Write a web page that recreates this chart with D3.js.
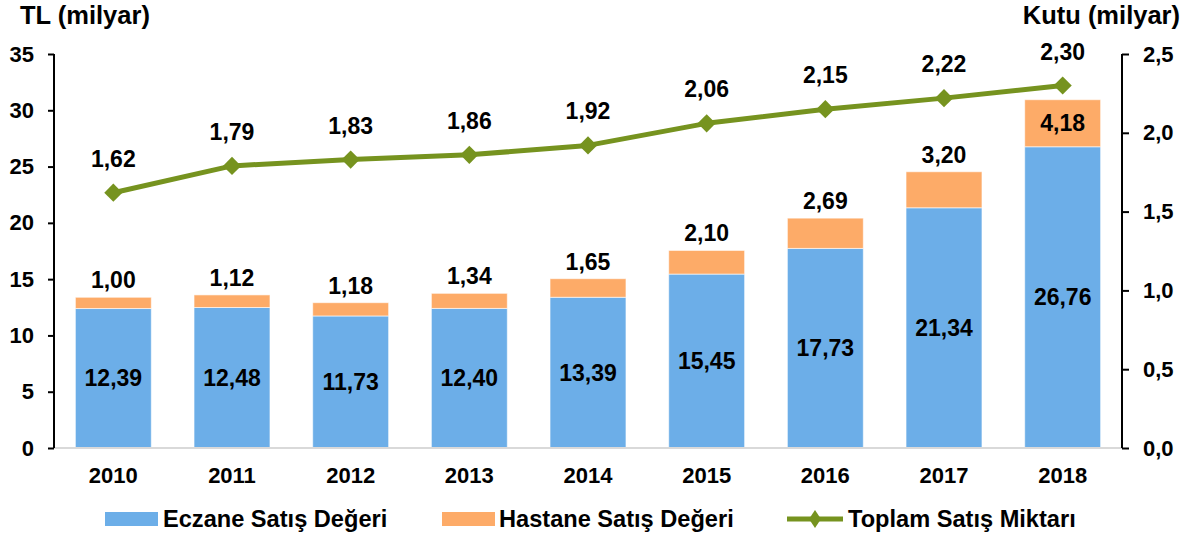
<!DOCTYPE html>
<html>
<head>
<meta charset="utf-8">
<script src="https://cdn.jsdelivr.net/npm/d3@7"></script>
<style>
  body { margin: 0; background: #fff; }
  text { font-family: "Liberation Sans", Arial, sans-serif; font-weight: bold; fill: #000; }
</style>
</head>
<body>
<svg id="chart" width="1200" height="535"></svg>
<script>
// veriler
const yillar = ["2010","2011","2012","2013","2014","2015","2016","2017","2018"];
const eczane = [12.39, 12.48, 11.73, 12.40, 13.39, 15.45, 17.73, 21.34, 26.76];
const hastane = [1.00, 1.12, 1.18, 1.34, 1.65, 2.10, 2.69, 3.20, 4.18];
const toplamMiktar = [1.62, 1.79, 1.83, 1.86, 1.92, 2.06, 2.15, 2.22, 2.30];
const solTikler = [0, 5, 10, 15, 20, 25, 30, 35];
const sagTikler = [0, 0.5, 1.0, 1.5, 2.0, 2.5];

const mavi = "#6caee8", turuncu = "#fdab68", yesil = "#76931f";
const fmt2 = v => v.toFixed(2).replace(".", ",");
const fmt1 = v => v.toFixed(1).replace(".", ",");

const svg = d3.select("#chart");
const sol = 54, sag = 1122, ust = 54, alt = 448;

const x = d3.scaleBand().domain(yillar).range([sol, sag]).paddingInner(0.36).paddingOuter(0.18);
const yL = d3.scaleLinear().domain([0, 35]).range([alt, ust]);
const yR = d3.scaleLinear().domain([0, 2.5]).range([alt, ust]);
const orta = d => x(d) + x.bandwidth() / 2;

// çubuklar
const g = svg.append("g");
g.selectAll(".ecz").data(yillar).join("rect")
  .attr("x", d => x(d)).attr("width", x.bandwidth())
  .attr("y", (d, i) => yL(eczane[i])).attr("height", (d, i) => yL(0) - yL(eczane[i]))
  .attr("fill", mavi).attr("stroke", "#fff").attr("stroke-opacity", 0.6).attr("stroke-width", 1);
g.selectAll(".has").data(yillar).join("rect")
  .attr("x", d => x(d)).attr("width", x.bandwidth())
  .attr("y", (d, i) => yL(eczane[i] + hastane[i])).attr("height", (d, i) => yL(eczane[i]) - yL(eczane[i] + hastane[i]))
  .attr("fill", turuncu).attr("stroke", "#fff").attr("stroke-opacity", 0.6).attr("stroke-width", 1);

// taban çizgisi
svg.append("line").attr("x1", sol).attr("x2", sag).attr("y1", alt).attr("y2", alt)
  .attr("stroke", "#d9d9d9").attr("stroke-width", 2);

// eksenler
const solEksen = svg.append("g").attr("transform", `translate(${sol},0)`)
  .call(d3.axisLeft(yL).tickValues(solTikler).tickSize(6).tickPadding(14).tickFormat(d3.format("d")));
const sagEksen = svg.append("g").attr("transform", `translate(${sag},0)`)
  .call(d3.axisRight(yR).tickValues(sagTikler).tickSize(7).tickPadding(14).tickFormat(fmt1));
[solEksen, sagEksen].forEach(e => {
  e.select(".domain").attr("stroke", "#000").attr("stroke-width", 2).attr("d", `M0,${ust}V${alt}`);
  e.selectAll(".tick line").attr("stroke", "#000").attr("stroke-width", 2);
  e.selectAll(".tick text").style("font-size", "22px").style("font-family", "Liberation Sans, Arial, sans-serif").style("font-weight", "bold");
});

// x etiketleri
svg.append("g").selectAll("text").data(yillar).join("text")
  .attr("x", orta).attr("y", 483)
  .attr("text-anchor", "middle").style("font-size", "22px").text(d => d);

// çubuk etiketleri
svg.append("g").selectAll("text").data(yillar).join("text")
  .attr("x", orta)
  .attr("y", (d, i) => yL(eczane[i] / 2) + 8)
  .attr("text-anchor", "middle").style("font-size", "23px").text((d, i) => fmt2(eczane[i]));
svg.append("g").selectAll("text").data(yillar).join("text")
  .attr("x", orta)
  .attr("y", (d, i) => i === yillar.length - 1
    ? yL(eczane[i] + hastane[i] / 2) + 8
    : yL(eczane[i] + hastane[i]) - 9)
  .attr("text-anchor", "middle").style("font-size", "23px").text((d, i) => fmt2(hastane[i]));

// çizgi
const cizgi = d3.line().x((d, i) => orta(yillar[i])).y(d => yR(d));
svg.append("path").datum(toplamMiktar).attr("d", cizgi)
  .attr("fill", "none").attr("stroke", yesil).attr("stroke-width", 5).attr("stroke-linejoin", "round");
const elmas = d3.symbol().type(d3.symbolDiamond2).size(210);
svg.append("g").selectAll("path").data(toplamMiktar).join("path")
  .attr("d", elmas)
  .attr("transform", (d, i) => `translate(${orta(yillar[i])},${yR(d)})`)
  .attr("fill", yesil);
svg.append("g").selectAll("text").data(toplamMiktar).join("text")
  .attr("x", (d, i) => orta(yillar[i])).attr("y", d => yR(d) - 26)
  .attr("text-anchor", "middle").style("font-size", "23px").text(d => fmt2(d));

// eksen başlıkları
svg.append("text").attr("x", 20).attr("y", 24).style("font-size", "25.5px").text("TL (milyar)");
svg.append("text").attr("x", 1180).attr("y", 24).attr("text-anchor", "end").style("font-size", "25.5px").text("Kutu (milyar)");

// lejant
const lej = svg.append("g").style("font-size", "23.6px");
lej.append("rect").attr("x", 105).attr("y", 512).attr("width", 53).attr("height", 14).attr("fill", mavi);
lej.append("text").attr("x", 163).attr("y", 527).text("Eczane Satış Değeri");
lej.append("rect").attr("x", 442).attr("y", 512).attr("width", 53).attr("height", 14).attr("fill", turuncu);
lej.append("text").attr("x", 499).attr("y", 527).text("Hastane Satış Değeri");
lej.append("line").attr("x1", 787).attr("x2", 843).attr("y1", 519).attr("y2", 519).attr("stroke", yesil).attr("stroke-width", 5);
lej.append("path").attr("d", "M0,-9L6,0L0,9L-6,0Z")
  .attr("transform", "translate(815,519)").attr("fill", yesil);
lej.append("text").attr("x", 848).attr("y", 527).text("Toplam Satış Miktarı");
</script>
</body>
</html>
